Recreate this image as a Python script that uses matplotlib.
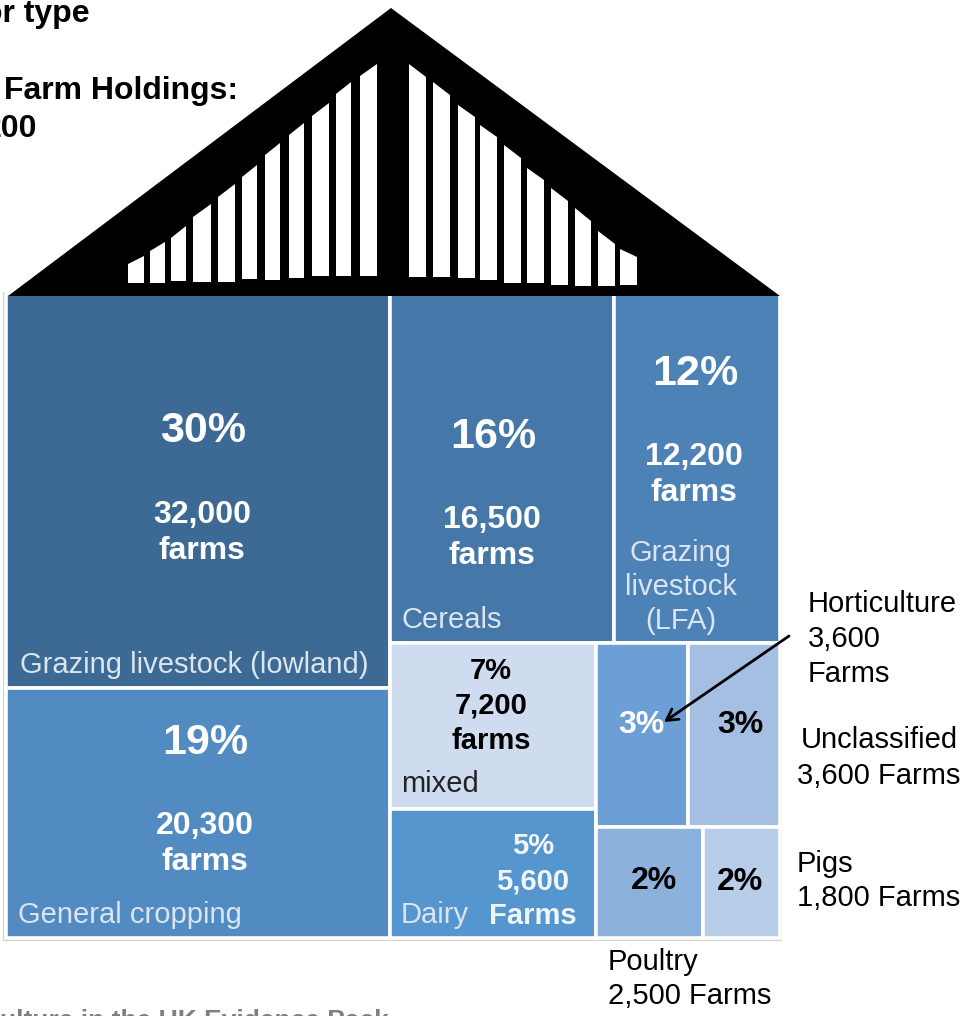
import matplotlib
matplotlib.use('Agg')
import matplotlib.pyplot as plt
from matplotlib.patches import Polygon, Rectangle

plt.rcParams['font.family'] = ['Liberation Sans', 'DejaVu Sans']

# farms per sector, these drive the tile sizes
sectors = ['lowland', 'cropping', 'cereals', 'lfa', 'mixed', 'dairy',
           'horticulture', 'unclassified', 'poultry', 'pigs']
farms = [32000, 20300, 16500, 12200, 7200, 5600, 3600, 3600, 2500, 1800]
colours = ['#3d6a94', '#528bc1', '#4577a8', '#4d82b6', '#cfdbee', '#5596cf',
           '#6b9fd6', '#a5bfe3', '#8db1dd', '#b8cde8']
farm_count = dict(zip(sectors, farms))
tile_colour = dict(zip(sectors, colours))

# how the tiles nest: each level flips between side by side and stacked
layout = [['lowland', 'cropping'],
          [['cereals', 'lfa'],
           [['mixed', 'dairy'],
            [['horticulture', 'unclassified'], ['poultry', 'pigs']]]]]

# white slits in the roof: x left, x right, y top left, y top right, y bottom
slit_x0 = [128, 150, 171, 193, 218, 242, 265, 289, 312, 336, 360,
           409, 433, 458, 480, 504, 527, 551, 575, 598, 620]
slit_x1 = [144, 165, 186, 211, 235, 257, 280, 304, 329, 351, 377,
           426, 450, 475, 497, 521, 544, 568, 591, 615, 637]
slit_ytl = [264, 251, 238, 217, 197, 177, 155, 135, 116, 94, 76,
            64, 82, 105, 125, 145, 168, 188, 208, 231, 249]
slit_ytr = [256, 242, 226, 204, 184, 165, 143, 123, 103, 82, 64,
            77, 95, 117, 137, 158, 180, 201, 221, 244, 257]
slit_yb = [283, 283, 281, 282, 282, 279, 280, 278, 276, 276, 276,
           277, 277, 278, 280, 283, 283, 285, 286, 286, 285]

# text: string, x, y, size, bold, colour, line spacing
tile_text = [
    ('30%', 203, 428, 31, True, 'white', 1.2),
    ('32,000\nfarms', 202, 530, 23, True, 'white', 1.28),
    ('Grazing livestock (lowland)', 194, 662, 21, False, '#dbe5f0', 1.2),
    ('19%', 205, 740, 31, True, 'white', 1.2),
    ('20,300\nfarms', 205, 841, 23, True, 'white', 1.28),
    ('General cropping', 130, 912, 21, False, '#dbe5f0', 1.2),
    ('16%', 493, 434, 31, True, 'white', 1.2),
    ('16,500\nfarms', 492, 535, 23, True, 'white', 1.28),
    ('Cereals', 452, 617, 21, False, '#dbe5f0', 1.2),
    ('12%', 695, 371, 31, True, 'white', 1.2),
    ('12,200\nfarms', 694, 472, 23, True, 'white', 1.25),
    ('Grazing\nlivestock\n(LFA)', 681, 584, 21, False, '#dbe5f0', 1.28),
    ('7%\n7,200\nfarms', 491, 703, 21, True, 'black', 1.31),
    ('mixed', 440, 781, 21, False, '#222222', 1.2),
    ('5%\n5,600\nFarms', 533, 878, 21, True, '#f2f6fb', 1.31),
    ('Dairy', 435, 912, 21, False, '#dbe5f0', 1.2),
    ('3%', 641, 722, 23, True, 'white', 1.2),
    ('3%', 740, 722, 23, True, 'black', 1.2),
    ('2%', 654, 878, 23, True, 'black', 1.2),
    ('2%', 740, 879, 23, True, 'black', 1.2),
]

side_text = [
    ('Horticulture\n3,600\nFarms', 808, 637),
    ('Unclassified', 801, 738),
    ('3,600 Farms', 797, 774),
    ('Pigs\n1,800 Farms', 797, 879),
    ('Poultry\n2,500 Farms', 608, 977),
]


def total(node):
    if isinstance(node, str):
        return farm_count[node]
    return sum(total(n) for n in node)


def place(node, x, y, w, h, across, tiles):
    # walk the nesting and split the box by the farm totals
    if isinstance(node, str):
        tiles[node] = (x, y, w, h)
        return
    sizes = [total(n) for n in node]
    pos = 0
    for n, s in zip(node, sizes):
        part = s / sum(sizes)
        if across:
            place(n, x + pos * w, y, part * w, h, False, tiles)
        else:
            place(n, x, y + pos * h, w, part * h, True, tiles)
        pos += part


fig = plt.figure(figsize=(9.69, 10.16), dpi=100)
ax = fig.add_axes([0, 0, 1, 1])
ax.set_xlim(0, 969)
ax.set_ylim(1016, 0)
ax.axis('off')

# treemap body
ax.add_patch(Rectangle((4.5, 293), 777, 646.5, fc='white', ec='#c8c8c8', lw=1.2, zorder=1))
tiles = {}
place(layout, 6.2, 294.2, 773.6, 643.4, True, tiles)
for name in sectors:
    x, y, w, h = tiles[name]
    ax.add_patch(Rectangle((x, y), w, h, fc=tile_colour[name], ec='white', lw=2.6, zorder=3))

# roof sits over the top edge of the tiles
ax.add_patch(Polygon([(8, 296), (391, 8), (780, 296)], closed=True, color='black', lw=0, zorder=4))
for x0, x1, ytl, ytr, yb in zip(slit_x0, slit_x1, slit_ytl, slit_ytr, slit_yb):
    ax.add_patch(Polygon([(x0, ytl), (x1, ytr), (x1, yb), (x0, yb)], closed=True,
                         color='white', lw=0, zorder=5))

for s, x, y, size, bold, col, spacing in tile_text:
    ax.text(x, y + 3, s, fontsize=size, fontweight='bold' if bold else 'normal', color=col,
            ha='center', va='center', linespacing=spacing, zorder=6)

for s, x, y in side_text:
    ax.text(x, y + 2, s, fontsize=21, color='black', ha='left', va='center',
            linespacing=1.3, zorder=6)

# arrow to the horticulture tile
ax.annotate('', xy=(664, 722), xytext=(789, 636), zorder=7,
            arrowprops=dict(arrowstyle='->,head_length=0.8,head_width=0.45', color='black',
                            lw=2, shrinkA=0, shrinkB=0))

# headings: only the part the picture shows, it is cropped at the edges
ax.text(90, 14, 'or type', fontsize=23, fontweight='bold', ha='right', va='center')
ax.text(238, 91, 'Farm Holdings:', fontsize=23, fontweight='bold', ha='right', va='center')
ax.text(37, 129, '200', fontsize=23, fontweight='bold', ha='right', va='center')
ax.text(389, 1028, 'ulture in the UK Evidence Pack', fontsize=19, fontweight='bold',
        color='#7f7f7f', ha='right', va='baseline', clip_on=False)

plt.savefig('out.png', dpi=100)
plt.close()
